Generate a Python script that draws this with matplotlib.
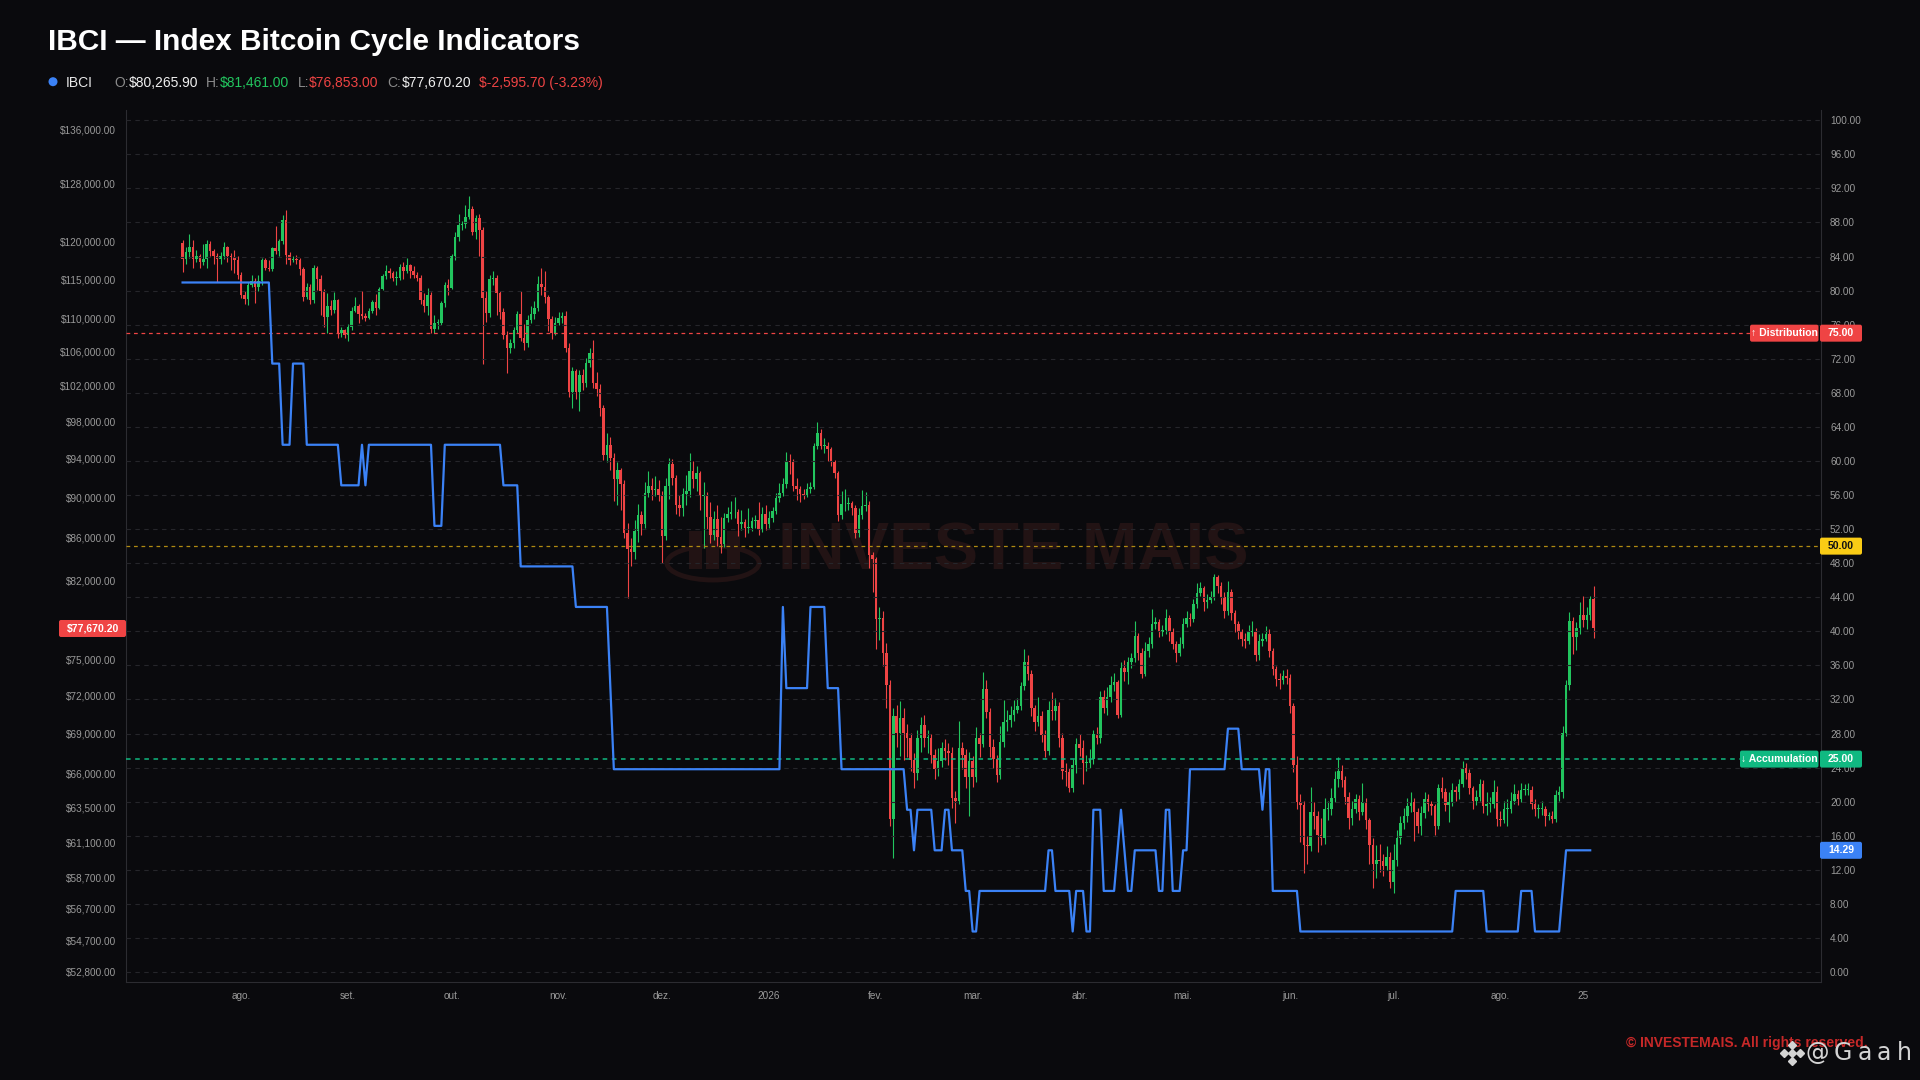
import matplotlib
matplotlib.use("Agg")
import matplotlib.pyplot as plt
import matplotlib.dates as mdates
import matplotlib.transforms as mtransforms
from matplotlib.patches import FancyBboxPatch, Ellipse, Rectangle, Circle
from matplotlib.lines import Line2D
from matplotlib.ticker import NullLocator
import numpy as np
import pandas as pd

plt.rcParams['font.family'] = ['Liberation Sans', 'DejaVu Sans']

BG = '#0a0a0d'
GREEN = '#22c55e'
RED = '#ef4444'
BLUE = '#3b82f6'
GRAY = '#9a9a9a'

# daily BTC candles in thousands of USD, first day 2025-07-15
start_date = "2025-07-15"
first_open = 119.8
closes = [
    117.6, 118.6, 119.2, 117.6, 118.0, 117.3, 117.7, 119.7, 118.7, 118.1,
    117.7, 118.0, 119.2, 118.0, 117.9, 117.5, 115.5, 113.0, 112.5, 114.3,
    114.8, 114.0, 114.8, 117.5, 116.5, 116.3, 119.1, 118.7, 120.0, 122.9,
    118.2, 117.5, 117.6, 117.5, 116.3, 112.7, 114.0, 112.3, 116.5, 115.0,
    113.5, 110.2, 111.6, 111.1, 112.3, 108.3, 108.6, 108.0, 109.0, 111.0,
    111.6, 110.6, 110.4, 110.1, 111.0, 112.1, 111.4, 113.8, 115.4, 116.0,
    115.8, 115.2, 115.2, 116.6, 116.1, 116.8, 116.0, 115.5, 115.2, 112.4,
    111.6, 113.0, 108.8, 109.5, 109.5, 112.0, 114.3, 113.9, 118.1, 120.6,
    122.2, 122.3, 123.3, 124.5, 121.2, 123.2, 121.6, 112.6, 110.7, 115.0,
    115.2, 113.2, 110.9, 108.0, 106.4, 107.0, 108.6, 110.6, 107.7, 107.0,
    109.9, 110.6, 111.4, 114.4, 114.0, 112.7, 110.0, 108.3, 109.5, 110.1,
    110.4, 106.5, 101.3, 103.7, 101.3, 103.3, 102.3, 104.7, 105.9, 102.3,
    101.6, 99.5, 94.4, 95.5, 94.1, 91.9, 92.8, 91.4, 86.5, 84.9,
    84.6, 86.7, 88.2, 87.3, 90.4, 91.2, 90.7, 90.9, 90.2, 86.2,
    91.2, 93.4, 92.0, 89.2, 88.9, 90.3, 90.6, 92.7, 91.9, 92.5,
    90.1, 90.2, 88.0, 86.3, 87.8, 86.1, 85.4, 87.9, 88.3, 88.5,
    88.5, 87.3, 87.5, 87.0, 87.0, 87.6, 87.7, 86.9, 88.3, 87.3,
    87.9, 88.6, 89.9, 90.4, 91.4, 93.8, 93.6, 91.2, 90.8, 90.3,
    90.2, 90.8, 91.1, 95.3, 96.7, 95.4, 95.4, 95.0, 93.6, 92.5,
    88.2, 89.3, 89.3, 89.4, 88.9, 86.5, 88.2, 89.1, 89.2, 84.4,
    84.0, 78.5, 78.6, 75.6, 72.9, 62.7, 70.4, 69.1, 70.2, 69.1,
    68.7, 67.0, 66.0, 68.7, 69.7, 68.7, 68.7, 67.4, 66.3, 66.9,
    67.9, 67.7, 67.5, 64.2, 64.0, 67.9, 67.4, 65.7, 66.9, 65.7,
    68.7, 68.2, 72.6, 70.7, 68.0, 67.1, 65.9, 68.4, 69.9, 70.1,
    70.5, 70.9, 71.2, 72.8, 74.8, 73.8, 71.0, 69.9, 70.4, 68.9,
    67.7, 70.9, 70.8, 71.2, 68.7, 66.2, 66.1, 64.9, 66.6, 68.2,
    67.9, 66.8, 66.8, 67.1, 69.0, 68.7, 71.9, 71.0, 71.9, 72.9,
    73.1, 70.5, 74.3, 74.0, 74.8, 75.1, 77.0, 75.6, 73.8, 75.7,
    76.3, 78.1, 78.2, 77.4, 77.5, 78.6, 77.4, 76.3, 75.6, 76.3,
    78.1, 78.6, 78.5, 79.8, 80.8, 81.3, 80.0, 80.2, 80.5, 82.3,
    81.5, 80.5, 79.2, 80.9, 79.0, 78.1, 77.4, 76.8, 76.6, 77.4,
    77.4, 75.4, 76.6, 76.8, 77.2, 75.7, 74.2, 73.4, 73.3, 73.6,
    73.5, 71.2, 66.6, 63.9, 63.7, 60.9, 60.8, 63.2, 62.9, 61.6,
    61.4, 63.4, 63.4, 64.2, 65.6, 66.2, 65.5, 64.3, 62.8, 63.4,
    64.1, 63.2, 63.9, 62.6, 60.9, 59.6, 59.9, 59.8, 59.5, 60.1,
    58.4, 59.9, 61.4, 62.4, 62.9, 63.6, 63.9, 63.2, 62.2, 63.1,
    64.1, 63.8, 63.6, 62.2, 64.9, 64.6, 63.7, 63.9, 64.8, 64.6,
    65.2, 66.4, 66.0, 64.9, 64.0, 64.3, 65.25, 63.6, 63.8, 63.8,
    64.6, 62.7, 62.6, 63.4, 63.4, 64.0, 64.5, 64.1, 64.8, 64.8,
    64.8, 63.8, 63.4, 63.4, 63.4, 62.9, 62.9, 62.7, 64.4, 64.6,
    69.1, 72.9, 78.3, 76.9, 77.7, 78.9, 78.4, 78.9, 80.2659, 77.6702,
]
highs = [
    120.2, 119.3, 121.0, 120.2, 118.8, 118.3, 119.7, 120.2, 120.0, 119.0,
    118.4, 118.6, 119.9, 119.4, 118.5, 118.9, 118.0, 115.9, 113.5, 114.6,
    115.5, 115.2, 115.6, 117.8, 117.8, 117.5, 119.3, 122.1, 120.3, 123.6,
    124.3, 118.6, 118.0, 118.2, 117.8, 116.6, 114.5, 114.4, 116.9, 116.7,
    115.5, 113.8, 113.2, 112.4, 113.3, 112.5, 109.0, 108.8, 109.3, 111.5,
    112.7, 111.8, 113.5, 110.7, 111.4, 112.4, 113.1, 114.0, 115.7, 116.8,
    116.5, 116.0, 116.0, 117.0, 117.3, 117.8, 117.0, 116.7, 115.9, 115.5,
    113.2, 113.9, 113.3, 110.5, 110.0, 112.2, 114.7, 115.0, 118.3, 121.2,
    123.8, 122.8, 125.0, 126.2, 124.8, 123.6, 123.8, 122.0, 113.5, 115.5,
    116.0, 115.5, 113.5, 111.3, 108.5, 107.5, 109.0, 111.0, 113.5, 109.4,
    110.5, 111.6, 112.2, 115.4, 116.4, 116.0, 113.0, 110.4, 110.2, 110.8,
    110.8, 111.0, 107.0, 104.2, 104.0, 103.8, 104.0, 105.2, 106.4, 107.4,
    103.6, 102.2, 99.8, 96.8, 96.3, 94.6, 93.6, 93.0, 91.8, 87.4,
    86.0, 87.7, 89.3, 88.6, 91.6, 92.7, 92.0, 92.2, 91.8, 90.6,
    92.0, 94.1, 94.0, 92.3, 90.2, 91.0, 92.3, 94.6, 93.8, 93.2,
    92.7, 91.6, 90.5, 89.5, 88.6, 89.2, 88.0, 88.4, 89.0, 89.6,
    90.0, 88.8, 88.7, 87.8, 88.9, 88.0, 88.2, 89.5, 89.0, 89.2,
    88.6, 89.0, 90.4, 91.5, 92.0, 94.7, 94.5, 94.0, 92.0, 91.2,
    90.8, 91.5, 91.6, 95.7, 97.9, 97.2, 96.2, 95.8, 95.2, 93.9,
    92.7, 90.6, 90.8, 90.0, 89.6, 89.2, 88.9, 90.7, 90.5, 89.6,
    84.6, 84.2, 79.6, 79.2, 76.4, 73.3, 71.0, 71.3, 71.6, 71.0,
    69.8, 69.1, 67.5, 69.3, 70.3, 70.5, 69.3, 69.0, 67.8, 67.9,
    68.4, 68.6, 68.3, 68.0, 64.7, 70.0, 68.4, 67.8, 67.6, 67.3,
    69.5, 69.1, 74.0, 73.3, 71.0, 68.6, 67.4, 69.6, 71.7, 70.9,
    71.2, 71.7, 71.8, 73.1, 75.9, 75.4, 74.1, 71.3, 71.9, 70.8,
    69.3, 71.6, 72.3, 71.8, 71.5, 69.1, 66.8, 66.4, 67.1, 68.7,
    69.0, 68.5, 67.4, 67.8, 69.3, 69.5, 72.4, 72.5, 72.7, 73.6,
    73.9, 73.3, 74.8, 75.0, 75.2, 75.6, 78.3, 77.3, 76.0, 76.5,
    76.9, 79.4, 78.7, 78.5, 78.0, 79.4, 78.9, 77.7, 76.6, 76.9,
    78.6, 79.2, 79.0, 80.3, 81.7, 81.8, 81.5, 80.7, 81.0, 82.6,
    82.5, 81.8, 80.9, 81.9, 81.2, 79.3, 78.3, 77.6, 77.3, 78.0,
    78.3, 77.7, 77.2, 77.3, 77.9, 77.6, 76.0, 74.5, 73.9, 74.1,
    74.2, 73.8, 71.4, 67.3, 64.5, 64.0, 61.5, 65.0, 63.9, 63.3,
    62.8, 64.2, 64.0, 64.9, 66.2, 67.2, 66.6, 65.8, 64.6, 64.0,
    64.5, 64.4, 65.3, 64.2, 62.8, 61.4, 60.9, 61.0, 60.3, 60.8,
    60.4, 61.0, 61.9, 62.9, 63.5, 64.2, 64.6, 64.2, 63.5, 63.6,
    64.6, 64.5, 64.0, 63.8, 65.2, 65.7, 64.9, 64.6, 65.3, 65.1,
    65.6, 66.9, 66.8, 66.3, 65.1, 64.8, 65.6, 65.5, 64.6, 64.3,
    65.5, 65.1, 63.3, 64.0, 64.1, 64.6, 65.2, 64.8, 65.3, 65.2,
    65.3, 65.1, 64.1, 63.8, 64.0, 63.6, 63.2, 63.3, 64.8, 65.1,
    69.6, 73.3, 79.1, 78.7, 78.2, 80.0, 80.6, 79.6, 80.6, 81.461,
]
lows = [
    115.9, 117.0, 117.8, 116.5, 117.2, 116.5, 116.8, 116.5, 118.0, 117.0,
    114.7, 117.0, 117.6, 117.3, 116.2, 115.8, 115.0, 112.6, 111.8, 111.7,
    114.0, 112.0, 113.5, 114.3, 116.2, 116.0, 116.0, 118.3, 118.0, 119.6,
    117.0, 116.8, 117.2, 117.0, 115.5, 112.2, 112.5, 111.8, 112.0, 113.6,
    110.5, 109.0, 108.3, 110.5, 110.7, 107.6, 107.8, 107.6, 107.3, 108.6,
    110.8, 109.5, 110.0, 109.7, 110.0, 110.7, 110.5, 111.2, 113.6, 115.0,
    115.2, 114.8, 114.2, 114.9, 115.0, 115.8, 115.2, 115.2, 114.8, 111.8,
    110.9, 110.5, 108.3, 108.3, 108.8, 109.2, 111.5, 113.0, 113.7, 117.5,
    120.0, 121.5, 121.8, 123.0, 120.8, 120.3, 118.0, 104.6, 109.6, 110.2,
    114.3, 110.5, 110.0, 107.5, 103.5, 105.8, 106.5, 108.3, 107.3, 106.2,
    106.6, 109.5, 110.0, 111.0, 113.0, 112.0, 108.5, 107.5, 108.0, 109.2,
    109.5, 106.0, 100.8, 99.5, 100.5, 99.2, 101.5, 101.9, 104.2, 101.8,
    100.9, 98.6, 93.9, 93.6, 92.8, 89.6, 89.2, 88.7, 86.0, 80.4,
    83.3, 84.0, 85.6, 86.3, 87.0, 90.0, 89.7, 90.1, 89.6, 83.6,
    85.8, 89.8, 91.3, 88.3, 88.1, 88.1, 89.2, 90.0, 91.0, 90.6,
    88.7, 85.0, 86.9, 85.5, 85.8, 85.2, 84.5, 85.1, 87.5, 87.8,
    87.9, 86.2, 86.8, 86.1, 86.5, 86.7, 87.0, 86.3, 86.6, 86.8,
    87.0, 87.5, 88.3, 89.5, 90.1, 91.0, 92.4, 90.6, 89.7, 89.5,
    89.8, 90.0, 90.4, 90.9, 95.0, 95.0, 94.6, 93.8, 93.2, 92.0,
    87.6, 87.8, 88.6, 88.7, 88.2, 86.0, 86.1, 87.8, 88.6, 83.1,
    80.9, 75.9, 76.7, 74.5, 71.0, 62.2, 60.0, 68.0, 67.3, 67.0,
    67.2, 66.2, 64.9, 65.5, 67.6, 68.0, 67.5, 66.8, 65.6, 65.8,
    66.5, 67.0, 66.6, 63.5, 62.4, 63.8, 66.3, 64.9, 62.9, 65.0,
    65.4, 67.2, 68.0, 70.2, 67.2, 66.4, 65.4, 65.6, 68.0, 69.2,
    69.5, 70.0, 70.6, 70.9, 72.5, 73.3, 70.4, 69.2, 69.6, 68.4,
    67.2, 67.4, 70.1, 70.1, 68.0, 65.6, 65.1, 64.6, 64.6, 66.0,
    67.3, 65.2, 66.2, 66.4, 66.7, 68.2, 68.3, 70.6, 70.5, 71.5,
    72.4, 70.2, 70.3, 73.2, 73.0, 74.3, 74.8, 75.0, 73.5, 73.6,
    75.2, 76.0, 77.6, 76.9, 77.0, 77.2, 76.6, 75.9, 74.8, 75.3,
    76.0, 77.8, 77.9, 78.2, 79.5, 80.6, 79.2, 79.5, 79.9, 80.2,
    80.8, 79.8, 78.6, 78.9, 78.4, 77.4, 76.8, 76.2, 76.0, 76.3,
    77.0, 74.9, 75.0, 76.2, 76.6, 75.2, 73.7, 72.8, 72.6, 73.0,
    73.0, 70.6, 66.1, 63.4, 61.1, 59.0, 59.6, 60.5, 62.0, 60.4,
    60.9, 61.0, 62.6, 63.0, 63.9, 65.0, 65.0, 63.8, 62.0, 62.3,
    63.1, 62.6, 63.0, 62.0, 59.6, 58.0, 58.7, 59.1, 58.8, 59.2,
    58.0, 57.7, 59.5, 61.0, 62.0, 62.5, 63.2, 61.2, 61.7, 61.6,
    62.8, 63.3, 63.0, 61.6, 62.0, 64.2, 63.3, 62.5, 63.6, 64.0,
    64.1, 65.0, 65.6, 64.5, 63.4, 63.7, 64.0, 63.1, 63.0, 63.2,
    63.5, 62.2, 62.2, 62.4, 62.2, 63.1, 63.8, 63.7, 63.9, 64.4,
    64.4, 63.4, 62.9, 62.8, 63.0, 62.2, 62.6, 62.4, 62.5, 64.0,
    64.2, 68.8, 72.5, 75.5, 75.8, 77.2, 77.8, 77.6, 78.4, 76.853,
]

# IBCI indicator as (number of days, value) runs, same start day
ibci_runs = [
    (26, 80.95), (3, 71.43), (3, 61.90), (4, 71.43), (10, 61.90), (6, 57.14),
    (1, 61.90), (1, 57.14), (19, 61.90), (3, 52.38), (17, 61.90), (5, 57.14),
    (16, 47.62), (10, 42.86), (1, 33.33), (49, 23.81), (1, 42.86), (7, 33.33),
    (5, 42.86), (4, 33.33), (19, 23.81), (2, 19.05), (1, 14.29), (5, 19.05),
    (3, 14.29), (2, 19.05), (4, 14.29), (2, 9.52), (2, 4.76), (20, 9.52),
    (2, 14.29), (5, 9.52), (1, 4.76), (3, 9.52), (2, 4.76), (3, 19.05),
    (4, 9.52), (1, 14.29), (1, 19.05), (1, 14.29), (2, 9.52), (7, 14.29),
    (2, 9.52), (2, 19.05), (3, 9.52), (2, 14.29), (11, 23.81), (4, 28.57),
    (6, 23.81), (1, 19.05), (2, 23.81), (8, 9.52), (45, 4.76), (9, 9.52),
    (10, 4.76), (4, 9.52), (8, 4.76), (1, 9.52), (8, 14.29),
]

month_ticks = ["2025-08-01", "2025-09-01", "2025-10-01", "2025-11-01", "2025-12-01",
               "2026-01-01", "2026-02-01", "2026-03-01", "2026-04-01", "2026-05-01",
               "2026-06-01", "2026-07-01", "2026-08-01", "2026-08-25"]
month_labels = ["ago.", "set.", "out.", "nov.", "dez.", "2026", "fev.", "mar.",
                "abr.", "mai.", "jun.", "jul.", "ago.", "25"]

price_ticks = [52800, 54700, 56700, 58700, 61100, 63500, 66000, 69000, 72000, 75000,
               82000, 86000, 90000, 94000, 98000, 102000, 106000, 110000, 115000,
               120000, 128000, 136000]

zones = [(75, RED, "↑ Distribution", 1750), (50, '#facc15', None, None),
         (25, '#10b981', "↓ Accumulation", 1740)]

# ---- prepare
dates = pd.date_range(start_date, periods=len(closes))
x = mdates.date2num(dates)
c = np.array(closes) * 1000
o = np.array([first_open] + closes[:-1]) * 1000
h = np.array(highs) * 1000
l = np.array(lows) * 1000
ibci = np.concatenate([np.full(n, v) for n, v in ibci_runs])

W, H = 1920, 1080
fig = plt.figure(figsize=(19.2, 10.8), dpi=100, facecolor=BG)
ax = fig.add_axes([126 / W, 98 / H, 1695 / W, 872 / H])
ax.set_facecolor(BG)
ax.set_yscale('log')
ax.set_ylim(52210, 139080)
ax.set_xlim(x[0] - 16.4, x[0] + 474.9)

# watermark
wm = '#221314'
ax.text(0.5233, 0.492, "INVESTE MAIS", transform=ax.transAxes, fontsize=48,
        fontweight='bold', color=wm, ha='center', va='center', zorder=1)
ax.add_patch(Ellipse((0.3463, 0.4805), 0.0543, 0.039, transform=ax.transAxes,
                     fill=False, ec=wm, lw=3.5, zorder=1))
for px in [0.3322, 0.3422, 0.3546]:
    ax.add_patch(Rectangle((px, 0.4736), 0.0077, 0.0436, transform=ax.transAxes,
                           fc=wm, ec='none', zorder=1))

# candles
up = c >= o
cols = np.where(up, GREEN, RED)
ax.vlines(x, l, h, colors=cols, linewidth=0.8, zorder=3)
lo = np.minimum(o, c)
hi = np.maximum(np.maximum(o, c), lo * 1.0009)
ax.bar(x, hi - lo, bottom=lo, width=0.72, color=cols, linewidth=0, zorder=4)

ax.set_yticks(price_ticks)
ax.set_yticklabels([f"${v:,.2f}" for v in price_ticks])
ax.yaxis.set_minor_locator(NullLocator())
ax.set_xticks(mdates.date2num(pd.to_datetime(month_ticks)))
ax.set_xticklabels(month_labels)
ax.tick_params(axis='y', labelsize=7.2, colors=GRAY, length=0, pad=7.2)
ax.tick_params(axis='x', labelsize=7.2, colors=GRAY, length=0, pad=6.5)
for s in ['top', 'right']:
    ax.spines[s].set_visible(False)
for s in ['left', 'bottom']:
    ax.spines[s].set_color('#2c2c31')

# IBCI axis
ax2 = ax.twinx()
ax2.set_ylim(-1.17, 101.2)
ax2.set_yticks(np.arange(0, 101, 4))
ax2.set_yticklabels([f"{v:.2f}" for v in np.arange(0, 101, 4)])
ax2.tick_params(axis='y', labelsize=7.2, colors=GRAY, length=0, pad=6.5)
ax2.yaxis.grid(True, color='#26262b', linestyle=(0, (4, 4)), linewidth=0.8)
for s in ['top', 'left', 'bottom']:
    ax2.spines[s].set_visible(False)
ax2.spines['right'].set_color('#2c2c31')
ax2.axhline(75, color=RED, linestyle=(0, (3, 3)), linewidth=0.9, zorder=2)
ax2.axhline(50, color='#b08a12', linestyle=(0, (3, 3)), linewidth=0.9, zorder=2)
ax2.axhline(25, color='#10b981', linestyle=(0, (3, 3)), linewidth=1.1, zorder=2)
ax2.plot(x[:len(ibci)], ibci, color=BLUE, linewidth=1.6, zorder=5)

ident = mtransforms.IdentityTransform()


def tag(yd, x0, x1, text, fc, tc):
    fig.add_artist(FancyBboxPatch((x0, yd - 8.5), x1 - x0, 17, transform=ident,
                                  boxstyle="round,pad=0,rounding_size=2",
                                  fc=fc, ec='none', zorder=10))
    fig.text((x0 + x1) / 2 / W, yd / H, text, ha='center', va='center',
             fontsize=7.5, fontweight='bold', color=tc, zorder=11)


for val, colr, name, nx in zones:
    yd = ax2.transData.transform((0, val))[1]
    tag(yd, 1820, 1862, f"{val:.2f}", colr, '#111111' if val == 50 else 'white')
    if name:
        tag(yd, nx, 1818.5, name, colr, 'white')

yd = ax2.transData.transform((0, ibci[-1]))[1]
tag(yd, 1820, 1862, f"{ibci[-1]:.2f}", BLUE, 'white')
yd = ax.transData.transform((0, c[-1]))[1]
tag(yd, 59, 126, f"${c[-1]:,.2f}", RED, 'white')

# header
fig.text(48 / W, 1 - 50 / H, "IBCI — Index Bitcoin Cycle Indicators", fontsize=21.5,
         fontweight='bold', color='white', va='baseline')
fig.add_artist(Circle((53, H - 81.7), 4.5, transform=ident, fc=BLUE, ec='none'))
chg = c[-1] - o[-1]
pieces = [("IBCI", 66, '#e8e8e8'), ("O:", 114, '#8b8b8b'), (f"${o[-1]:,.2f}", 129, '#f0f0f0'),
          ("H:", 206, '#8b8b8b'), (f"${h[-1]:,.2f}", 220, GREEN),
          ("L:", 298, '#8b8b8b'), (f"${l[-1]:,.2f}", 309, RED),
          ("C:", 387, '#8b8b8b'), (f"${c[-1]:,.2f}", 402, '#f0f0f0'),
          (f"${chg:,.2f} ({chg / o[-1] * 100:.2f}%)", 479, RED)]
for txt, px, colr in pieces:
    fig.text(px / W, 1 - 87.3 / H, txt, fontsize=10, color=colr, va='baseline')

# footer
fig.text(1626 / W, 37 / H, "© INVESTEMAIS. All rights reserved.", fontsize=10,
         fontweight='bold', color='#c62828', va='center')
fig.add_artist(Line2D([1792, 1784, 1800, 1792, 1792], [27, 27, 27, 35, 19], transform=ident,
                      ls='none', marker='D', ms=4, color='#d4d4d4', zorder=12))
for ch, px in zip("@Gaah", [1817, 1843, 1865, 1884, 1904]):
    fig.text(px / W, 27 / H, ch, fontsize=17, color='#d4d4d4', ha='center', va='center',
             family='DejaVu Sans', zorder=12)

fig.savefig("out.png", dpi=100, facecolor=BG)
